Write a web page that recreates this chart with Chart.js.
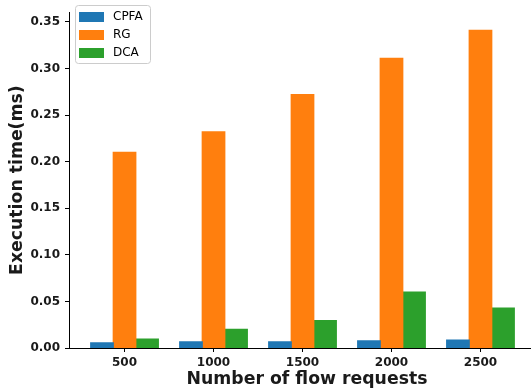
<!DOCTYPE html>
<html>
<head>
<meta charset="utf-8">
<script src="https://cdn.jsdelivr.net/npm/chart.js@4"></script>
<style>
  html, body { margin: 0; padding: 0; background: #fff; overflow: hidden; }
  #wrap { width: 531px; height: 391px; overflow: hidden; }
</style>
</head>
<body>
<div id="wrap"><canvas id="exec_chart" width="546" height="391"></canvas></div>
<script>
const categories = ['500', '1000', '1500', '2000', '2500'];
const cpfaValues = [0.0055, 0.0065, 0.0065, 0.0076, 0.0086];
const rgValues = [0.210, 0.232, 0.272, 0.311, 0.341];
const dcaValues = [0.0096, 0.020, 0.0293, 0.060, 0.0428];
const yTicks = [0, 0.05, 0.10, 0.15, 0.20, 0.25, 0.30, 0.35];

const ctx = document.getElementById('exec_chart');

function toPoints(values) {
    return values.map((v, i) => ({ x: i, y: v }));
}

// legend box drawn inside the plot area, like matplotlib's upper-left legend
const innerLegend = {
    id: 'innerLegend',
    afterDraw(chart) {
        const c = chart.ctx;
        const left = chart.chartArea.left + 6;
        const top = 5;
        c.save();
        c.fillStyle = 'rgba(255,255,255,0.8)';
        c.strokeStyle = '#cccccc';
        c.lineWidth = 1;
        c.beginPath();
        c.roundRect(left + 0.5, top + 0.5, 75, 58, 3);
        c.fill();
        c.stroke();
        c.font = '12px "DejaVu Sans"';
        c.textBaseline = 'middle';
        chart.data.datasets.forEach((ds, i) => {
            const cy = top + 12 + i * 18;
            c.fillStyle = ds.backgroundColor;
            c.fillRect(left + 4, cy - 5, 25, 10);
            c.fillStyle = '#000';
            c.fillText(ds.label, left + 38, cy);
        });
        c.restore();
    }
};

// canvas is a bit wider than the window: the plot runs past the right edge, cropped like the reference
let chart = new Chart(ctx, {
    type: 'bar',
    data: {
        datasets: [
            { label: 'CPFA', data: toPoints(cpfaValues), backgroundColor: '#1f77b4' },
            { label: 'RG', data: toPoints(rgValues), backgroundColor: '#ff7f0e' },
            { label: 'DCA', data: toPoints(dcaValues), backgroundColor: '#2ca02c' }
        ]
    },
    options: {
        responsive: false,
        animation: false,
        layout: { padding: { left: 0, right: 1, top: 0, bottom: 0 } },
        datasets: { bar: { categoryPercentage: 0.76, barPercentage: 1.0, borderWidth: 0, inflateAmount: 0.6 } },
        plugins: { legend: { display: false }, tooltip: { enabled: false } },
        scales: {
            x: {
                type: 'linear',
                offset: false,
                min: -0.624,
                max: 4.725,
                afterBuildTicks: (axis) => { axis.ticks = categories.map((_, i) => ({ value: i })); },
                afterFit: (axis) => { axis.height = 43; },
                grid: { offset: false, drawOnChartArea: false, tickLength: 4, tickColor: '#000' },
                border: { display: true, color: '#000', width: 1 },
                ticks: {
                    padding: 4,
                    color: '#1a1a1a',
                    font: { family: 'DejaVu Sans', size: 12, weight: 'bold' },
                    callback: (v) => categories[v]
                },
                title: {
                    display: true,
                    text: 'Number of flow requests',
                    color: '#1a1a1a',
                    font: { family: 'DejaVu Sans', size: 17.3, weight: 'bold' },
                    padding: { top: 0, bottom: 1 }
                }
            },
            y: {
                min: 0,
                max: 0.3604,
                afterBuildTicks: (axis) => { axis.ticks = yTicks.map(v => ({ value: v })); },
                afterFit: (axis) => { axis.width = 69; },
                grid: { drawOnChartArea: false, tickLength: 4, tickColor: '#000' },
                border: { display: true, color: '#000', width: 1 },
                ticks: {
                    padding: 5,
                    color: '#1a1a1a',
                    font: { family: 'DejaVu Sans', size: 12, weight: 'bold' },
                    callback: (v) => v.toFixed(2)
                },
                title: {
                    display: true,
                    text: 'Execution time(ms)',
                    color: '#1a1a1a',
                    font: { family: 'DejaVu Sans', size: 17.3, weight: 'bold' },
                    padding: { top: 7, bottom: 0 }
                }
            }
        }
    },
    plugins: [innerLegend]
});
</script>
</body>
</html>
